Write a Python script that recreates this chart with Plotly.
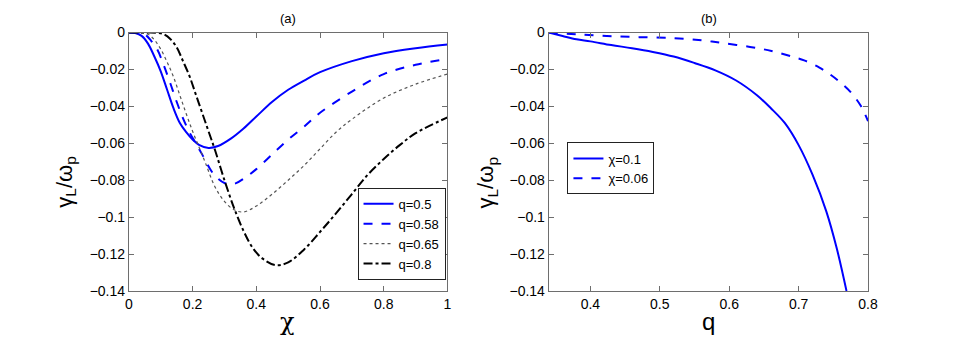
import plotly.graph_objects as go

# panel (a): gamma_L/omega_p vs chi for several q
chi_05 = [0, 0.02, 0.04, 0.06, 0.08, 0.10, 0.12, 0.14, 0.16, 0.18, 0.20, 0.22, 0.25,
          0.28, 0.32, 0.36, 0.40, 0.45, 0.50, 0.55, 0.60, 0.70, 0.80, 0.90, 1.00]
g_05 = [0, -0.0003, -0.0018, -0.006, -0.013, -0.021, -0.031, -0.041, -0.049, -0.054,
        -0.058, -0.0608, -0.0625, -0.0615, -0.0575, -0.052, -0.0455, -0.0375, -0.031,
        -0.026, -0.0215, -0.0155, -0.0112, -0.0085, -0.0065]

chi_058 = [0, 0.03, 0.05, 0.07, 0.09, 0.11, 0.13, 0.15, 0.17, 0.19, 0.21, 0.23, 0.25,
           0.27, 0.30, 0.33, 0.37, 0.40, 0.45, 0.50, 0.55, 0.60, 0.70, 0.80, 0.90, 1.00]
g_058 = [0, -0.0001, -0.001, -0.0045, -0.0095, -0.018, -0.0275, -0.0375, -0.0465,
         -0.054, -0.060, -0.066, -0.0725, -0.0775, -0.0815, -0.082, -0.078, -0.074,
         -0.066, -0.058, -0.051, -0.0435, -0.032, -0.0225, -0.0175, -0.0143]

chi_065 = [0, 0.04, 0.06, 0.08, 0.10, 0.12, 0.14, 0.16, 0.18, 0.20, 0.22, 0.24, 0.27,
           0.30, 0.33, 0.36, 0.40, 0.45, 0.50, 0.55, 0.60, 0.65, 0.70, 0.80, 0.90, 1.00]
g_065 = [0, -0.0002, -0.0009, -0.004, -0.009, -0.016, -0.024, -0.034, -0.044, -0.0535,
         -0.062, -0.0705, -0.0835, -0.0915, -0.096, -0.0972, -0.094, -0.0875, -0.080,
         -0.072, -0.063, -0.054, -0.047, -0.0355, -0.028, -0.0225]

chi_08 = [0, 0.06, 0.09, 0.11, 0.13, 0.15, 0.17, 0.19, 0.21, 0.23, 0.25, 0.27, 0.30,
          0.33, 0.36, 0.39, 0.42, 0.46, 0.50, 0.55, 0.60, 0.65, 0.70, 0.75, 0.80, 0.85,
          0.90, 1.00]
g_08 = [0, 0, -0.0002, -0.001, -0.0035, -0.008, -0.0155, -0.0235, -0.0335, -0.0435,
        -0.0535, -0.0635, -0.080, -0.095, -0.1075, -0.117, -0.1225, -0.126, -0.1245,
        -0.1175, -0.108, -0.098, -0.0875, -0.077, -0.0685, -0.061, -0.0545, -0.046]

# panel (b): gamma_L/omega_p vs q for two chi
q_01 = [0.34, 0.36, 0.38, 0.40, 0.43, 0.46, 0.49, 0.52, 0.55, 0.58, 0.61, 0.64, 0.66,
        0.68, 0.70, 0.72, 0.74, 0.755, 0.769]
g_01 = [0, -0.0019, -0.0037, -0.0048, -0.0068, -0.0085, -0.0105, -0.013, -0.0165,
        -0.0205, -0.026, -0.034, -0.041, -0.049, -0.061, -0.077, -0.097, -0.117, -0.14]

q_006 = [0.34, 0.38, 0.424, 0.47, 0.519, 0.56, 0.59, 0.63, 0.661, 0.69, 0.708, 0.73,
         0.746, 0.76, 0.775, 0.79, 0.80]
g_006 = [0, -0.001, -0.0019, -0.0025, -0.003, -0.0042, -0.0057, -0.0078, -0.010, -0.013,
         -0.0151, -0.019, -0.0229, -0.027, -0.0323, -0.040, -0.048]

BLUE = '#0000ff'
W, H = 969, 346

fig = go.Figure()
fig.add_trace(go.Scatter(x=chi_05, y=g_05, name='q=0.5', mode='lines', line_shape='spline',
                         line=dict(color=BLUE, width=2, dash='solid')))
fig.add_trace(go.Scatter(x=chi_058, y=g_058, name='q=0.58', mode='lines', line_shape='spline',
                         line=dict(color=BLUE, width=2, dash='dash')))
fig.add_trace(go.Scatter(x=chi_065, y=g_065, name='q=0.65', mode='lines', line_shape='spline',
                         line=dict(color='#555555', width=1.2, dash='dot')))
fig.add_trace(go.Scatter(x=chi_08, y=g_08, name='q=0.8', mode='lines', line_shape='spline',
                         line=dict(color='black', width=2, dash='dashdot')))

fig.add_trace(go.Scatter(x=q_01, y=g_01, name='χ=0.1', mode='lines', line_shape='spline',
                         xaxis='x2', yaxis='y2', legend='legend2',
                         line=dict(color=BLUE, width=2, dash='solid')))
fig.add_trace(go.Scatter(x=q_006, y=g_006, name='χ=0.06', mode='lines', line_shape='spline',
                         xaxis='x2', yaxis='y2', legend='legend2',
                         line=dict(color=BLUE, width=2, dash='dash')))

ax = dict(showline=True, linecolor='#6e6e6e', linewidth=1, mirror='ticks',
          ticks='inside', ticklen=5, tickcolor='#6e6e6e', showgrid=False, zeroline=False,
          tickfont=dict(family='Liberation Sans, Arial', size=14, color='black'))

fig.update_layout(
    width=W, height=H,
    margin=dict(l=0, r=0, t=0, b=0),
    plot_bgcolor='white', paper_bgcolor='white',
    font=dict(family='Liberation Sans, Arial', color='black'),
    xaxis=dict(ax, domain=[126.7 / W, 450 / W], range=[0, 1], anchor='y',
               tickvals=[0, 0.2, 0.4, 0.6, 0.8, 1]),
    yaxis=dict(ax, domain=[49.3 / H, 320.3 / H], range=[-0.14, 0], anchor='x',
               dtick=0.02),
    xaxis2=dict(ax, domain=[552.7 / W, 876.7 / W], range=[0.34, 0.8], anchor='y2',
                tickvals=[0.4, 0.5, 0.6, 0.7, 0.8]),
    yaxis2=dict(ax, domain=[49.3 / H, 320.3 / H], range=[-0.14, 0], anchor='x2',
                dtick=0.02),
    legend=dict(x=448 / W, y=61 / H, xanchor='right', yanchor='bottom',
                bgcolor='white', bordercolor='#222222', borderwidth=1,
                font=dict(size=13), tracegroupgap=0),
    legend2=dict(x=571.7 / W, y=205 / H, xanchor='left', yanchor='top',
                 bgcolor='white', bordercolor='#222222', borderwidth=1,
                 font=dict(size=13)),
    showlegend=True,
)

# panel titles and axis labels
ann = [
    dict(text='(a)', x=288 / W, y=(H - 11) / H, size=13, angle=0, fam='Liberation Sans'),
    dict(text='(b)', x=715 / W, y=(H - 11) / H, size=13, angle=0, fam='Liberation Sans'),
    dict(text='χ', x=288 / W, y=(H - 329) / H, size=24, angle=0, fam='DejaVu Serif'),
    dict(text='q', x=715 / W, y=(H - 329) / H, size=24, angle=0, fam='Liberation Sans'),
    dict(text='γ<sub>L</sub>/ω<sub>p</sub>', x=62 / W, y=163 / H, size=22, angle=-90,
         fam='Liberation Sans'),
    dict(text='γ<sub>L</sub>/ω<sub>p</sub>', x=490 / W, y=163 / H, size=22, angle=-90,
         fam='Liberation Sans'),
]
for a in ann:
    fig.add_annotation(text=a['text'], x=a['x'], y=a['y'], xref='paper', yref='paper',
                       showarrow=False, xanchor='center', yanchor='middle',
                       textangle=a['angle'],
                       font=dict(size=a['size'], color='black', family=a['fam']))

# drop the default 8px body margin so the page is exactly the figure size
ps = """
document.body.style.margin='0';
document.body.style.overflow='hidden';
document.documentElement.style.overflow='hidden';
"""
fig.write_html("out.html", config={'displayModeBar': False}, post_script=ps)
